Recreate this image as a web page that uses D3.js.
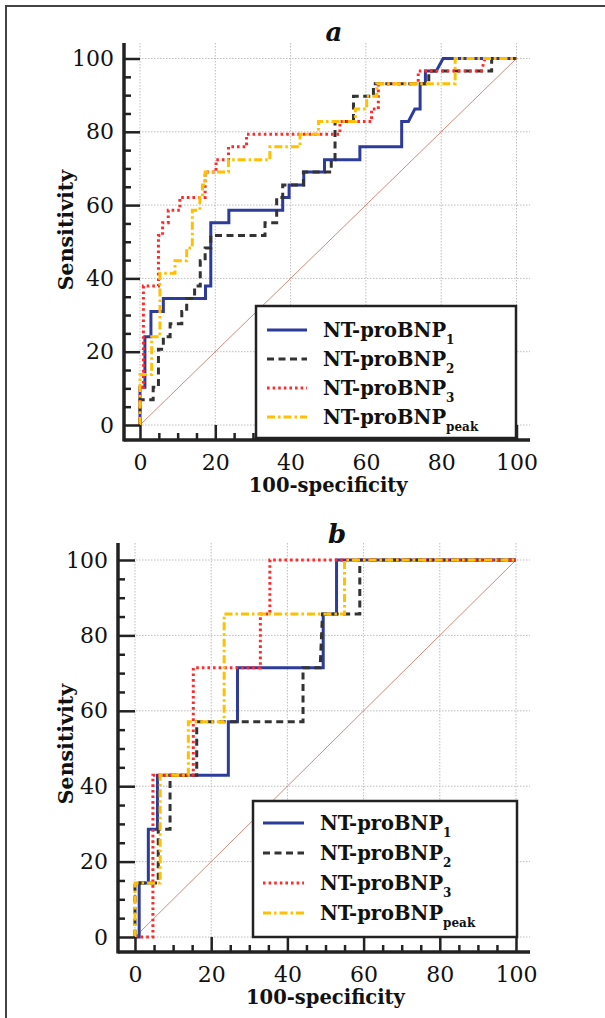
<!DOCTYPE html>
<html>
<head>
<meta charset="utf-8">
<script src="https://cdn.jsdelivr.net/npm/d3@7"></script>
<style>
  body { margin: 0; background: #fff; }
  svg { display: block; }
</style>
</head>
<body>
<div id="chart"></div>
<script>
// axis ticks
var majorTicks = [0, 20, 40, 60, 80, 100];
var minorTicks = [5, 10, 15, 25, 30, 35, 45, 50, 55, 65, 70, 75, 85, 90, 95];

// legend names + subscripts
var seriesNames = ["NT-proBNP", "NT-proBNP", "NT-proBNP", "NT-proBNP"];
var seriesSubs = ["1", "2", "3", "peak"];

// panel a : [100-specificity, sensitivity]
var a_bnp1 = [[0,0],[0,10.3],[1.3,10.3],[1.3,24.1],[2.9,24.1],[2.9,31],[6.2,31],[6.2,34.5],[17.4,34.5],[17.4,37.9],[18.8,37.9],[18.8,55.2],[23.6,55.2],[23.6,58.6],[37.9,58.6],[37.9,62.1],[39.6,62.1],[39.6,65.5],[43.5,65.5],[43.5,69],[49,69],[49,72.4],[58.4,72.4],[58.4,75.9],[69.5,75.9],[69.5,82.8],[71.3,82.8],[73,86.2],[74.4,86.2],[74.4,93.1],[75.8,93.1],[75.8,96.6],[78.7,96.6],[80.5,100],[100,100]];
var a_bnp2 = [[0,0],[0,6.9],[3.5,6.9],[3.5,10.3],[4.9,10.3],[4.9,20.7],[6.2,20.7],[6.2,24.1],[8,24.1],[8,27.6],[11.1,27.6],[11.1,31],[12.4,31],[12.4,34.5],[14.5,34.5],[14.5,37.9],[16,37.9],[16,44.8],[17.3,44.8],[17.3,48.3],[18.8,48.3],[18.8,51.7],[33.2,51.7],[33.2,55.2],[36.3,55.2],[36.3,62.1],[37.9,62.1],[37.9,65.5],[43.4,65.5],[43.4,69],[50.8,69],[50.8,72.4],[51.8,72.4],[51.8,82.8],[56.7,82.8],[56.7,89.7],[62,89.7],[62,93.1],[76.7,93.1],[76.7,96.6],[93.4,96.6],[93.4,100],[100,100]];
var a_bnp3 = [[0,0],[0,10.3],[0.9,10.3],[0.9,37.9],[4.9,37.9],[4.9,51.7],[6,51.7],[6,55.2],[7.5,55.2],[7.5,58.6],[10.6,58.6],[10.6,62.1],[17.3,62.1],[17.3,69],[20.2,69],[20.2,72.4],[23.5,72.4],[23.5,75.9],[28.3,75.9],[28.3,79.3],[53.1,79.3],[53.1,82.8],[61.5,82.8],[61.5,86.2],[63.3,86.2],[63.3,93.1],[73.9,93.1],[73.9,96.6],[90.7,96.6],[91.6,100],[100,100]];
var a_peak = [[0,0],[0,13.8],[3.1,13.8],[3.1,24.1],[5.3,24.1],[5.3,41.4],[9.3,41.4],[9.3,44.8],[12.4,44.8],[12.4,48.3],[13.9,48.3],[13.9,58.6],[15.9,58.6],[15.9,62.1],[16.6,62.1],[16.6,65.5],[17.3,65.5],[17.3,69],[23.5,69],[23.5,72.4],[34.5,72.4],[34.5,75.9],[42.5,75.9],[42.5,79.3],[47.4,79.3],[47.4,82.8],[57.2,82.8],[57.2,86.2],[60.2,86.2],[60.2,89.7],[62.9,89.7],[62.9,93.1],[83.7,93.1],[83.7,100],[100,100]];

// panel b
var b_bnp1 = [[0,0],[1.1,0],[1.1,14.3],[3.5,14.3],[3.5,28.6],[5.9,28.6],[5.9,42.9],[24.5,42.9],[24.5,57.1],[26.9,57.1],[26.9,71.4],[49.4,71.4],[49.4,85.7],[52.9,85.7],[52.9,100],[100,100]];
var b_bnp2 = [[0,0],[0,14.3],[6.1,14.3],[6.1,28.6],[9.2,28.6],[9.2,42.9],[16.2,42.9],[16.2,57.1],[44.1,57.1],[44.1,71.4],[48.6,71.4],[49.2,85.7],[59,85.7],[59,100],[100,100]];
var b_bnp3 = [[0,0],[4.7,0],[4.7,42.9],[15.3,42.9],[15.3,71.4],[32.9,71.4],[32.9,85.7],[35.4,85.7],[35.4,100],[100,100]];
var b_peak = [[0,0],[0,14.3],[6.6,14.3],[6.6,42.9],[14,42.9],[14,57.1],[23.4,57.1],[23.4,85.7],[55,85.7],[55,100],[100,100]];

// line styles, same order as the legend
var styles = [
  {color: "#2d3c9c", dash: null},
  {color: "#333333", dash: "7,4.5"},
  {color: "#ff2b2b", dash: "2.6,3"},
  {color: "#ffc000", dash: "8,3,2.5,3"}
];

var panels = [
  {title: "a", curves: [a_bnp1, a_bnp2, a_bnp3, a_peak],
   x0: 140, x1: 516.5, y0: 425, y1: 58.5, axisX: 124, axisY: 440, top: 43, right: 530,
   titleX: 334, titleY: 41, ylabY: 230,
   legend: {x: 256, y: 306, w: 260, h: 132, lx1: 267, lx2: 307, tx: 323, row0: 330, dy: 29}},
  {title: "b", curves: [b_bnp1, b_bnp2, b_bnp3, b_peak],
   x0: 135, x1: 516, y0: 937, y1: 560, axisX: 118, axisY: 952, top: 543, right: 530,
   titleX: 337, titleY: 543, ylabY: 744,
   legend: {x: 253, y: 801, w: 264, h: 136, lx1: 263, lx2: 304, tx: 320, row0: 823, dy: 30}}
];

var svg = d3.select("#chart")
  .append("svg")
    .attr("width", 605)
    .attr("height", 1018);

// outer frame (left + top only are visible)
svg.append("path")
  .attr("d", "M6,1018 L6,6 L605,6")
  .attr("fill", "none")
  .attr("stroke", "#444")
  .attr("stroke-width", 2);

var serif = "'DejaVu Serif', serif";

panels.forEach(function(p) {
  var g = svg.append("g");

  var x = d3.scaleLinear().domain([0, 100]).range([p.x0, p.x1]);
  var y = d3.scaleLinear().domain([0, 100]).range([p.y0, p.y1]);

  // grid
  g.selectAll(".vgrid")
    .data(majorTicks)
    .enter()
    .append("line")
      .attr("x1", function(d) { return x(d) }).attr("x2", function(d) { return x(d) })
      .attr("y1", p.top).attr("y2", p.axisY)
      .attr("stroke", "#bdbdbd").attr("stroke-width", 1).attr("stroke-dasharray", "1.5,1.5");
  g.selectAll(".hgrid")
    .data(majorTicks)
    .enter()
    .append("line")
      .attr("x1", p.axisX).attr("x2", p.right)
      .attr("y1", function(d) { return y(d) }).attr("y2", function(d) { return y(d) })
      .attr("stroke", "#bdbdbd").attr("stroke-width", 1).attr("stroke-dasharray", "1.5,1.5");

  // diagonal reference
  g.append("line")
    .attr("x1", x(0)).attr("y1", y(0))
    .attr("x2", x(100)).attr("y2", y(100))
    .attr("stroke", "#cf8a7c").attr("stroke-width", 1);

  // curves
  var line = d3.line()
    .x(function(d) { return x(d[0]) })
    .y(function(d) { return y(d[1]) });

  p.curves.forEach(function(c, i) {
    g.append("path")
      .datum(c)
      .attr("d", line)
      .attr("fill", "none")
      .attr("stroke", styles[i].color)
      .attr("stroke-width", 3)
      .attr("stroke-dasharray", styles[i].dash);
  });

  // x axis: ticks pointing up into the plot
  var xMajor = d3.axisBottom(x).tickValues(majorTicks)
    .tickSizeInner(-(p.axisY - p.y0)).tickSizeOuter(0).tickPadding(14);
  var xMinor = d3.axisBottom(x).tickValues(minorTicks)
    .tickSizeInner(-7).tickSizeOuter(0).tickFormat("");
  var gx = g.append("g").attr("transform", "translate(0," + p.axisY + ")").call(xMajor);
  var gx2 = g.append("g").attr("transform", "translate(0," + p.axisY + ")").call(xMinor);

  // y axis: ticks pointing right
  var yMajor = d3.axisLeft(y).tickValues(majorTicks)
    .tickSizeInner(-(p.x0 - p.axisX)).tickSizeOuter(0).tickPadding(10);
  var yMinor = d3.axisLeft(y).tickValues(minorTicks)
    .tickSizeInner(-7).tickSizeOuter(0).tickFormat("");
  var gy = g.append("g").attr("transform", "translate(" + p.axisX + ",0)").call(yMajor);
  var gy2 = g.append("g").attr("transform", "translate(" + p.axisX + ",0)").call(yMinor);

  [gx, gx2, gy, gy2].forEach(function(a) {
    a.select(".domain").remove();
    a.selectAll(".tick line").attr("stroke", "#222").attr("stroke-width", 2.5);
    a.selectAll("text")
      .attr("fill", "#111")
      .style("font-family", serif)
      .style("font-size", "22px");
  });
  gy.selectAll("text").attr("x", -10);

  // axis lines
  g.append("line")
    .attr("x1", p.axisX).attr("x2", p.right)
    .attr("y1", p.axisY).attr("y2", p.axisY)
    .attr("stroke", "#222").attr("stroke-width", 3.5);
  g.append("line")
    .attr("x1", p.axisX).attr("x2", p.axisX)
    .attr("y1", p.top).attr("y2", p.axisY + 1.5)
    .attr("stroke", "#222").attr("stroke-width", 3.5);

  // axis titles
  g.append("text")
    .attr("x", x(50)).attr("y", p.axisY + 52)
    .attr("text-anchor", "middle")
    .style("font-family", serif).style("font-weight", "bold").style("font-size", "19.5px")
    .attr("fill", "#111")
    .text("100-specificity");
  g.append("text")
    .attr("transform", "translate(73," + p.ylabY + ") rotate(-90)")
    .attr("text-anchor", "middle")
    .style("font-family", serif).style("font-weight", "bold").style("font-size", "20.5px")
    .attr("fill", "#111")
    .text("Sensitivity");

  // panel letter
  g.append("text")
    .attr("x", p.titleX).attr("y", p.titleY)
    .attr("text-anchor", "middle")
    .style("font-family", serif).style("font-weight", "bold").style("font-style", "italic")
    .style("font-size", "26px")
    .attr("fill", "#111")
    .text(p.title);

  // legend
  var L = p.legend;
  var lg = g.append("g");
  lg.append("rect")
    .attr("x", L.x).attr("y", L.y).attr("width", L.w).attr("height", L.h)
    .attr("fill", "#fff").attr("stroke", "#222").attr("stroke-width", 2.5);

  seriesNames.forEach(function(name, i) {
    var ry = L.row0 + i * L.dy;
    lg.append("line")
      .attr("x1", L.lx1).attr("x2", L.lx2)
      .attr("y1", ry).attr("y2", ry)
      .attr("stroke", styles[i].color)
      .attr("stroke-width", 3)
      .attr("stroke-dasharray", styles[i].dash);
    var t = lg.append("text")
      .attr("x", L.tx).attr("y", ry + 7)
      .style("font-family", serif).style("font-weight", "bold").style("font-size", "19.5px")
      .attr("fill", "#111");
    t.append("tspan").text(name);
    t.append("tspan")
      .attr("dy", 6.5)
      .style("font-size", "12px")
      .text(seriesSubs[i]);
  });
});
</script>
</body>
</html>
